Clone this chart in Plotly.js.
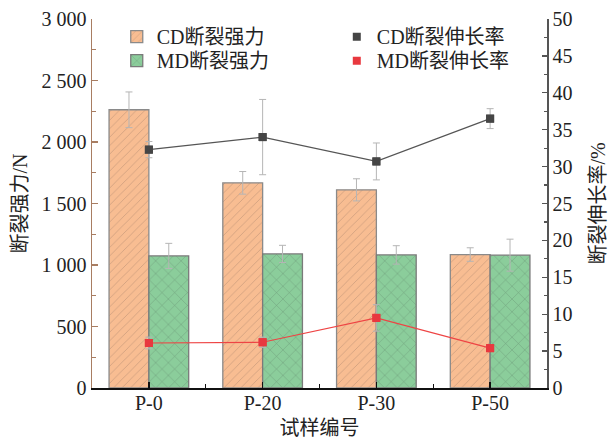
<!DOCTYPE html>
<html>
<head>
<meta charset="utf-8">
<script src="https://cdn.plot.ly/plotly-3.0.1.min.js"></script>
<style>html,body{margin:0;padding:0;background:#fff;}#chart{width:609px;height:441px;}</style>
</head>
<body>
<div id="chart"></div>
<script>
const categories = ['P-0', 'P-20', 'P-30', 'P-50'];
const cdStrength = [2262, 1668, 1611, 1085];
const cdStrengthErr = [145, 92, 90, 55];
const mdStrength = [1074, 1090, 1082, 1080];
const mdStrengthErr = [102, 70, 75, 130];
const cdElong = [32.3, 34.0, 30.7, 36.5];
const cdElongErr = [1.1, 5.1, 2.5, 1.35];
const mdElong = [6.1, 6.2, 9.5, 5.4];
const mdElongErr = [0.8, 0.7, 1.8, 0.4];
const leftTickVals = [0, 500, 1000, 1500, 2000, 2500, 3000];
const leftTickText = ['0', '500', '1 000', '1 500', '2 000', '2 500', '3 000'];
const names = ['CD断裂强力', 'MD断裂强力', 'CD断裂伸长率', 'MD断裂伸长率'];

const xs = categories.map((c, i) => i);
const FONT = 'Liberation Serif, Times New Roman, Noto Sans CJK SC, serif';
const errStyle = {type: 'data', visible: true, color: '#b5b5b5', thickness: 1, width: 3.5};

const traces = [
  {
    type: 'bar', name: names[0], x: xs, y: cdStrength,
    error_y: Object.assign({array: cdStrengthErr}, errStyle),
    marker: {color: '#f8bd92', line: {color: '#8a8a8a', width: 1.3},
      pattern: {shape: '/', fgcolor: '#b08a70', fgopacity: 0.8, size: 6, solidity: 0.1, fillmode: 'overlay'}},
    legend: 'legend'
  },
  {
    type: 'bar', name: names[1], x: xs, y: mdStrength,
    error_y: Object.assign({array: mdStrengthErr}, errStyle),
    marker: {color: '#8bcd9b', line: {color: '#7a7a7a', width: 1.3},
      pattern: {shape: 'x', fgcolor: '#6e9a78', fgopacity: 1, size: 9, solidity: 0.1, fillmode: 'overlay'}},
    legend: 'legend2'
  },
  {
    type: 'scatter', mode: 'lines+markers', name: names[2], x: xs, y: cdElong, yaxis: 'y2',
    error_y: Object.assign({array: cdElongErr}, errStyle),
    line: {color: '#555555', width: 1.2},
    marker: {symbol: 'square', size: 8, color: '#454545'},
    showlegend: false
  },
  {
    type: 'scatter', mode: 'lines+markers', name: names[3], x: xs, y: mdElong, yaxis: 'y2',
    error_y: Object.assign({array: mdElongErr}, errStyle),
    line: {color: '#ee4444', width: 1.2},
    marker: {symbol: 'square', size: 8, color: '#e8383f'},
    showlegend: false
  },
  {
    type: 'scatter', mode: 'markers', name: names[2], x: xs, y: cdElong, yaxis: 'y2',
    marker: {symbol: 'square', size: 8, color: '#454545'},
    legend: 'legend3', hoverinfo: 'skip'
  },
  {
    type: 'scatter', mode: 'markers', name: names[3], x: xs, y: mdElong, yaxis: 'y2',
    marker: {symbol: 'square', size: 8, color: '#e8383f'},
    legend: 'legend4', hoverinfo: 'skip'
  }
];

function leg(x, y) {
  return {x: x, y: y, xanchor: 'left', yanchor: 'top', bgcolor: 'rgba(0,0,0,0)',
    font: {family: FONT, size: 20, color: '#222'}, tracegroupgap: 0, itemwidth: 30};
}

const layout = {
  width: 609, height: 441,
  margin: {l: 92, r: 62, t: 19, b: 53, pad: 0},
  paper_bgcolor: '#ffffff', plot_bgcolor: '#ffffff',
  font: {family: FONT, size: 20, color: '#222222'},
  barmode: 'group', bargap: 0.3, bargroupgap: 0,
  showlegend: true,
  legend: leg(0.0544, 1.005),
  legend2: leg(0.0544, 0.940),
  legend3: leg(0.538, 1.005),
  legend4: leg(0.538, 0.940),
  xaxis: {
    range: [-0.5, 3.5], tickmode: 'array', tickvals: xs, ticktext: categories,
    showline: true, linecolor: '#111111', linewidth: 1.5, mirror: false,
    ticks: 'inside', ticklen: 6, tickwidth: 1.5, tickcolor: '#111111',
    minor: {tickmode: 'array', tickvals: [0.5, 1.5, 2.5], ticks: 'inside', ticklen: 4, tickwidth: 1.2, tickcolor: '#111111'},
    showgrid: false, zeroline: false, automargin: false, ticklabelstandoff: -4,
    tickfont: {family: FONT, size: 20, color: '#222'},
    title: {text: '试样编号', font: {family: FONT, size: 20, color: '#222'}, standoff: 8}
  },
  yaxis: {
    range: [0, 3000], tickmode: 'array', tickvals: leftTickVals, ticktext: leftTickText,
    showline: true, linecolor: '#a87d62', linewidth: 1.5,
    ticks: 'inside', ticklen: 6, tickwidth: 1.3, tickcolor: '#a87d62',
    minor: {tickmode: 'linear', tick0: 0, dtick: 250, ticks: 'inside', ticklen: 3.5, tickwidth: 1.2, tickcolor: '#a87d62'},
    showgrid: false, zeroline: false, automargin: false,
    tickfont: {family: FONT, size: 20, color: '#222'},
    title: {text: '断裂强力/N', font: {family: FONT, size: 20, color: '#222'}, standoff: 8}
  },
  yaxis2: {
    range: [0, 50], overlaying: 'y', side: 'right', tickmode: 'linear', tick0: 0, dtick: 5,
    showline: true, linecolor: '#555555', linewidth: 1.5,
    ticks: 'inside', ticklen: 5, tickwidth: 1.3, tickcolor: '#555555',
    minor: {tickmode: 'linear', tick0: 0, dtick: 2.5, ticks: 'inside', ticklen: 3, tickwidth: 1.2, tickcolor: '#555555'},
    showgrid: false, zeroline: false, automargin: false,
    tickfont: {family: FONT, size: 20, color: '#222'},
    title: {text: '断裂伸长率/%', font: {family: FONT, size: 20, color: '#222'}, standoff: 19}
  }
};

Plotly.newPlot('chart', traces, layout, {staticPlot: true, displayModeBar: false});
</script>
</body>
</html>
